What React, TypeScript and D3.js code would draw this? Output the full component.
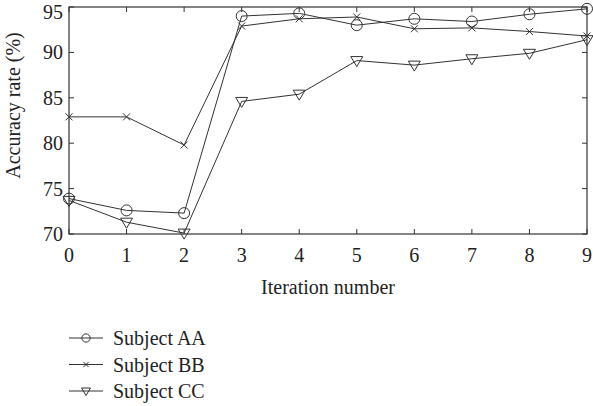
import React from 'react';
import * as d3 from 'd3';

const iterations = [0, 1, 2, 3, 4, 5, 6, 7, 8, 9];
const subjectAA = [73.9, 72.6, 72.3, 94.0, 94.3, 93.0, 93.7, 93.4, 94.2, 94.8];
const subjectBB = [82.9, 82.9, 79.8, 92.9, 93.7, 93.9, 92.6, 92.7, 92.3, 91.8];
const subjectCC = [73.7, 71.3, 70.1, 84.6, 85.4, 89.1, 88.6, 89.3, 89.9, 91.4];
const yTicks = [70, 75, 80, 85, 90, 95];
const seriesNames = ['Subject AA', 'Subject BB', 'Subject CC'];

const W = 593;
const H = 406;
const m = { left: 69, right: 587, top: 7, bottom: 234 };
const ink = '#333';
const font = '"Liberation Serif", "DejaVu Serif", serif';
const fs = 20;

const Marker = ({ kind, x, y, k = 1 }: { kind: string; x: number; y: number; k?: number }) => {
  if (kind === 'circle') return <circle cx={x} cy={y} r={5.5 * k} fill="none" stroke={ink} strokeWidth={1} />;
  if (kind === 'cross') {
    const s = 3.5 * k;
    return <path d={`M${x - s},${y - s}L${x + s},${y + s}M${x - s},${y + s}L${x + s},${y - s}`} stroke={ink} strokeWidth={1} />;
  }
  const s = 6 * k;
  return <path d={`M${x - s},${y - 4 * k}L${x + s},${y - 4 * k}L${x},${y + 6 * k}Z`} fill="none" stroke={ink} strokeWidth={1} />;
};

export default function App() {
  const x = d3.scaleLinear().domain([0, 9]).range([m.left, m.right]);
  const y = d3.scaleLinear().domain([70, 95]).range([m.bottom, m.top]);
  const line = d3.line<number>().x((_, i) => x(iterations[i])).y(d => y(d));
  const series = [
    { name: seriesNames[0], values: subjectAA, kind: 'circle' },
    { name: seriesNames[1], values: subjectBB, kind: 'cross' },
    { name: seriesNames[2], values: subjectCC, kind: 'tri' },
  ];
  const tl = 5;

  return (
    <svg width={W} height={H} style={{ position: 'absolute', left: 0, top: 0, fontFamily: font }}>
      <rect width={W} height={H} fill="#fff" />
      {iterations.map(t => (
        <g key={'x' + t}>
          <line x1={x(t)} x2={x(t)} y1={m.bottom} y2={m.bottom - tl} stroke={ink} />
          <line x1={x(t)} x2={x(t)} y1={m.top} y2={m.top + tl} stroke={ink} />
          <text x={x(t)} y={m.bottom + 21} dy="0.35em" textAnchor="middle" fontSize={fs} fill="#222">{t}</text>
        </g>
      ))}
      {yTicks.map(t => (
        <g key={'y' + t}>
          <line x1={m.left} x2={m.left + tl} y1={y(t)} y2={y(t)} stroke={ink} />
          <line x1={m.right} x2={m.right - tl} y1={y(t)} y2={y(t)} stroke={ink} />
          <text x={m.left - 6} y={Math.max(y(t), 11.5)} dy="0.35em" textAnchor="end" fontSize={fs} fill="#222">{t}</text>
        </g>
      ))}
      <rect x={m.left} y={m.top} width={m.right - m.left} height={m.bottom - m.top} fill="none" stroke={ink} strokeWidth={1.2} />
      <text transform={`translate(13,${(m.top + m.bottom) / 2 - 15}) rotate(-90)`} textAnchor="middle" dy="0.35em" fontSize={fs} fill="#222">Accuracy rate (%)</text>
      <text x={328} y={287} dy="0.35em" textAnchor="middle" fontSize={fs} fill="#222">Iteration number</text>
      {series.map(s => (
        <g key={s.name}>
          <path d={line(s.values) || ''} fill="none" stroke={ink} strokeWidth={1} />
          {s.values.map((v, i) => <Marker key={i} kind={s.kind} x={x(iterations[i])} y={y(v)} />)}
        </g>
      ))}
      {series.map((s, i) => {
        const ly = 338 + i * 26.5;
        return (
          <g key={'leg' + s.name}>
            <line x1={69} x2={103} y1={ly} y2={ly} stroke={ink} />
            <Marker kind={s.kind} x={86} y={ly} k={0.75} />
            <text x={113} y={ly} dy="0.35em" fontSize={fs} fill="#222">{s.name}</text>
          </g>
        );
      })}
    </svg>
  );
}
